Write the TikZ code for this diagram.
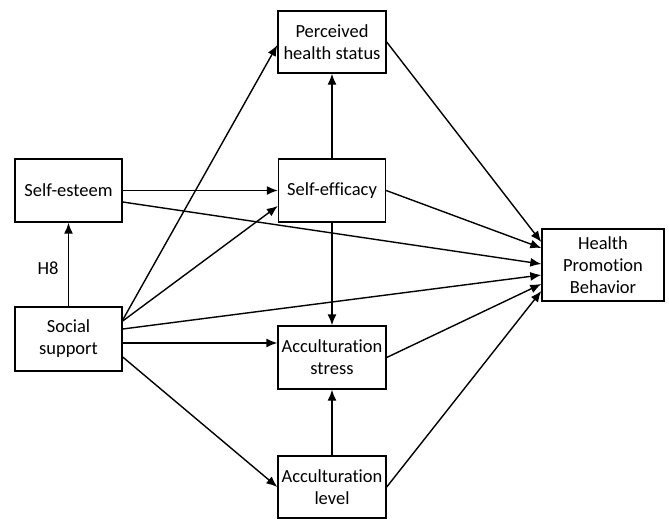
\documentclass[tikz,border=0pt]{standalone}
\usepackage{fontspec}
\setmainfont{Carlito}[Ligatures=NoCommon]
\usetikzlibrary{arrows.meta}
\begin{document}
\begin{tikzpicture}[x=1pt,y=-1pt,
  box/.style={draw,line width=1.4pt,align=center,inner sep=2pt,font=\fontsize{18.5}{22}\selectfont},
  arr/.style={line width=1.4pt,-{Latex[length=11pt,width=9pt]}}]
\useasboundingbox (0,0) rectangle (669,519);
\node[box,minimum width=107pt,minimum height=63pt] (se) at (68.5,190.5) {Self-esteem};
\node[box,minimum width=107pt,minimum height=64pt] (ss) at (68.5,339) {Social\\support};
\node[box,minimum width=108pt,minimum height=62pt] (ph) at (332,42) {Perceived\\health status};
\node[box,minimum width=107pt,minimum height=63pt] (ef) at (332,190.5) {Self-efficacy};
\node[box,minimum width=108pt,minimum height=63pt] (as) at (332,357.5) {Acculturation\\stress};
\node[box,minimum width=108pt,minimum height=62pt] (al) at (332,487) {Acculturation\\level};
\node[box,minimum width=122pt,minimum height=72pt] (hp) at (603,265) {Health\\Promotion\\Behavior};
\node[font=\fontsize{18.5}{22}\selectfont] (h8) at (48,268) {H8};

\draw[arr] (ss.north) -- (se.south);
\draw[arr] (se.east) -- (ef.west);
\draw[arr] ([yshift=-11.5pt]se.east) -- ([yshift=1pt]hp.west);
\draw[arr] ([yshift=19pt]ss.east) -- ([yshift=-3pt]ph.west);
\draw[arr] ([yshift=18pt]ss.east) -- ([yshift=-15.5pt]ef.west);
\draw[arr] ([yshift=10pt]ss.east) -- ([yshift=-10pt]hp.west);
\draw[arr] ([yshift=-4pt]ss.east) -- ([yshift=-4pt]ss.east -| as.west);
\draw[arr] ([yshift=-18pt]ss.east) -- (al.west);
\draw[arr] (ef.north) -- (ph.south);
\draw[arr] (ef.south) -- (as.north);
\draw[arr] (al.north) -- (as.south);
\draw[arr] (ph.east) -- ([yshift=23pt]hp.west);
\draw[arr] (ef.east) -- ([yshift=17pt]hp.west);
\draw[arr] (as.east) -- ([yshift=-19pt]hp.west);
\draw[arr] (al.east) -- ([yshift=-26pt]hp.west);
\end{tikzpicture}
\end{document}
